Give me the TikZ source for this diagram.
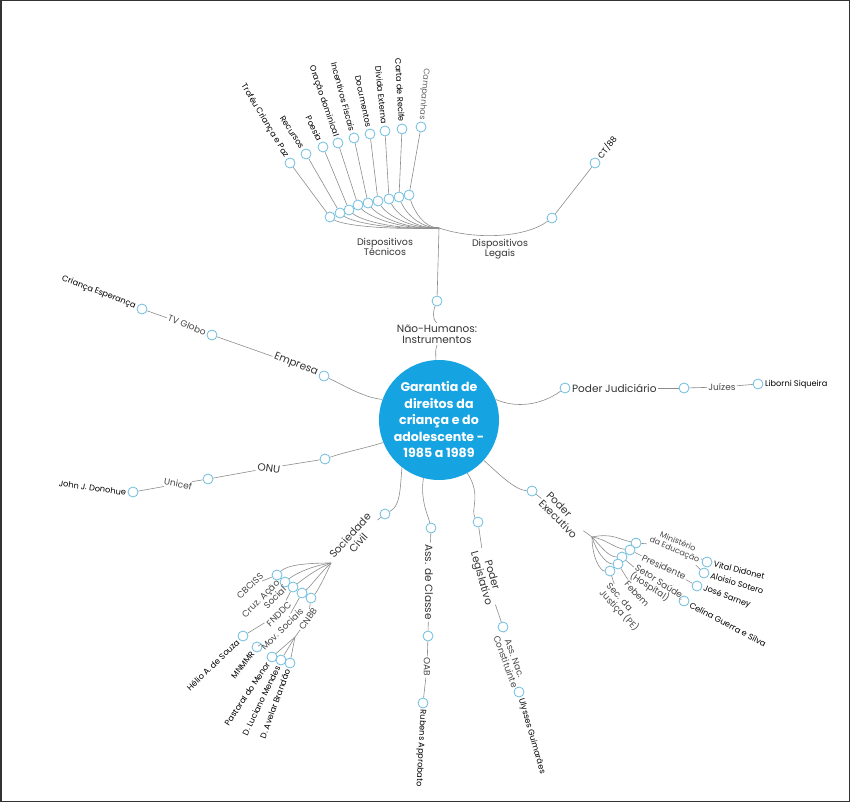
\documentclass[tikz,border=0pt]{standalone}
\usepackage{fontspec}
\setmainfont{Poppins}
\definecolor{coreblue}{RGB}{22,163,226}
\definecolor{dotblue}{RGB}{110,190,222}
\definecolor{linegray}{RGB}{140,140,140}

\begin{document}
\begin{tikzpicture}[x=1pt, y=-1pt,
    core/.style={circle, fill=coreblue, minimum size=120pt, inner sep=0pt, text=white, align=center, font=\bfseries\fontsize{12.6}{16.5}\selectfont},
    dot/.style={circle, draw=dotblue, fill=white, line width=0.8pt, minimum size=10pt, inner sep=0pt},
    lbl/.style={font=\fontsize{10.5}{11}\selectfont, text=black!80, align=center, inner sep=1.5pt},
    sub/.style={font=\fontsize{9}{9.5}\selectfont, text=black!72, align=center, inner sep=1.2pt},
    leaf/.style={font=\fontsize{8.2}{9}\selectfont, text=black, inner sep=1.5pt},
    link/.style={draw=linegray, line width=0.6pt}]
  \useasboundingbox (0,0) rectangle (850,802);
  \draw[black!80, line width=1.5pt] (0.75,0.75) rectangle (849.25,801.25);

  % centre
  \node[core] (core) at (439,420) {Garantia de\\direitos da\\criança e do\\adolescente -\\1985 a 1989};

  % nao-humanos
  \node[lbl] (nh) at (437,334) {Não-Humanos:\\Instrumentos};
  \node[dot] (nhdot) at (437,301) {};
  \coordinate (hub) at (439,228);
  \draw[link] (core.93) .. controls +(0,-8) and +(-2,6) .. (nh.south);
  \draw[link] (nh.north) .. controls +(-6,-5) and +(-3,8) .. (nhdot);
  \draw[link] (nhdot) -- (hub);

  % dispositivos tecnicos
  \node[sub, text=black!80, font=\fontsize{9.5}{10}\selectfont] (tec) at (385,247) {Dispositivos\\Técnicos};
  \node[dot] (l1) at (330,217) {};
  \node[dot] (l2) at (340,213) {};
  \node[dot] (l3) at (349,210) {};
  \node[dot] (l4) at (358,205) {};
  \node[dot] (l5) at (368,203) {};
  \node[dot] (l6) at (378,201) {};
  \node[dot] (l7) at (389,199) {};
  \node[dot] (l8) at (399,197) {};
  \node[dot] (l9) at (409,195) {};
  \draw[link] (hub) .. controls +(-55,2) and +(12,8) .. (l1);
  \draw[link] (hub) .. controls +(-50,2) and +(12,9) .. (l2);
  \draw[link] (hub) .. controls +(-45,2) and +(11,10) .. (l3);
  \draw[link] (hub) .. controls +(-40,2) and +(10,11) .. (l4);
  \draw[link] (hub) .. controls +(-35,2) and +(9,12) .. (l5);
  \draw[link] (hub) .. controls +(-30,1) and +(8,13) .. (l6);
  \draw[link] (hub) .. controls +(-25,1) and +(7,14) .. (l7);
  \draw[link] (hub) .. controls +(-20,0) and +(6,15) .. (l8);
  \draw[link] (hub) .. controls +(-15,0) and +(5,16) .. (l9);
  \node[dot] (u1) at (290,163) {};
  \node[dot] (u2) at (306,154) {};
  \node[dot] (u3) at (323,147) {};
  \node[dot] (u4) at (338,143) {};
  \node[dot] (u5) at (354,138) {};
  \node[dot] (u6) at (370,134) {};
  \node[dot] (u7) at (385,131) {};
  \node[dot] (u8) at (402,129) {};
  \node[dot] (u9) at (421,127) {};
  \draw[link] (l1) -- (u1);
  \draw[link] (l2) -- (u2);
  \draw[link] (l3) -- (u3);
  \draw[link] (l4) -- (u4);
  \draw[link] (l5) -- (u5);
  \draw[link] (l6) -- (u6);
  \draw[link] (l7) -- (u7);
  \draw[link] (l8) -- (u8);
  \draw[link] (l9) -- (u9);
  \node[leaf, rotate=-59, anchor=east] (u1tx) at (u1.121) {Troféu Criança e Paz};
  \node[leaf, rotate=-57, anchor=east] (u2tx) at (u2.123) {Recursos};
  \node[leaf, rotate=-64, anchor=east] (u3tx) at (u3.116) {Poesia};
  \node[leaf, rotate=-71, anchor=east] (u4tx) at (u4.109) {Oração dominical};
  \node[leaf, rotate=-75, anchor=east] (u5tx) at (u5.105) {Incentivos Fiscais};
  \node[leaf, rotate=-78, anchor=east] (u6tx) at (u6.102) {Documentos};
  \node[leaf, rotate=-84, anchor=east] (u7tx) at (u7.96) {Dívida Externa};
  \node[leaf, rotate=-87, anchor=east] (u8tx) at (u8.93) {Carta de Recife};
  \node[leaf, rotate=-95, anchor=east, text=black!60] (u9tx) at (u9.85) {Campanhas};

  % dispositivos legais
  \node[sub, text=black!80, font=\fontsize{9.5}{10}\selectfont] (legal) at (500,249) {Dispositivos\\Legais};
  \node[dot] (lg) at (552,218) {};
  \node[dot] (ct) at (595,163) {};
  \draw[link] (hub) .. controls (475,240) and (525,238) .. (lg);
  \draw[link] (lg) -- (ct);
  \node[leaf, rotate=52, anchor=west] (cttx) at (ct.52) {CT/88};

  % empresa
  \node[dot] (emp) at (324,376) {};
  \draw[link] (core.160) .. controls (365,398) and (345,386) .. (emp);
  \node[lbl, rotate=-22, anchor=east] (emptx) at (emp.158) {Empresa};
  \node[dot] (tvg) at (212,335) {};
  \draw[link] (emptx) -- (tvg);
  \node[sub, rotate=-22, anchor=east] (tvgtx) at (tvg.158) {TV Globo};
  \node[dot] (ce) at (142,309) {};
  \draw[link] (tvgtx) -- (ce);
  \node[leaf, rotate=-21, anchor=east] (cetx) at (ce.159) {Criança Esperança};

  % poder judiciario
  \node[dot] (jud) at (565,388) {};
  \draw[link] (core.20) .. controls (515,408) and (540,406) .. (jud);
  \node[lbl, anchor=west] (judtx) at (jud.east) {Poder Judiciário};
  \node[dot] (juz) at (684,388) {};
  \draw[link] (judtx) -- (juz);
  \node[sub] (juztx) at (722,387) {Juízes};
  \draw[link] (juz) -- (juztx);
  \node[dot] (lib) at (758,384) {};
  \draw[link] (juztx) -- (lib);
  \node[leaf, anchor=west] (libtx) at (lib.east) {Liborni Siqueira};

  % onu
  \node[dot] (onu) at (325,459) {};
  \draw[link] (core.202) .. controls (362,449) and (345,452) .. (onu);
  \node[lbl, rotate=-8] (onutx) at (269,468) {ONU};
  \draw[link] (onu) -- (onutx);
  \node[dot] (uni) at (208,479) {};
  \draw[link] (onutx) -- (uni);
  \node[sub, rotate=-10] (unitx) at (178,484) {Unicef};
  \draw[link] (uni) -- (unitx);
  \node[dot] (jjd) at (133,492) {};
  \draw[link] (unitx) -- (jjd);
  \node[leaf, rotate=-8, anchor=east] (jjdtx) at (jjd.188) {John J. Donohue};

  % sociedade civil
  \node[dot] (soc) at (385,514) {};
  \draw[link] (core.232) .. controls (400,492) and (400,506) .. (soc);
  \node[lbl, rotate=48] (soctx) at (354,539) {Sociedade\\Civil};
  \draw[link] (soc) -- (soctx);
  \coordinate (sochub) at (331,563);
  \node[dot] (s1) at (277,575) {};
  \node[dot] (s2) at (285,582) {};
  \node[dot] (s3) at (293,587) {};
  \node[dot] (s4) at (302,593) {};
  \node[dot] (s5) at (311,598) {};
  \draw[link] (sochub) .. controls +(-25,0) and +(10,-10) .. (s1);
  \draw[link] (sochub) .. controls +(-20,3) and +(10,-8) .. (s2);
  \draw[link] (sochub) .. controls +(-15,6) and +(9,-7) .. (s3);
  \draw[link] (sochub) .. controls +(-10,9) and +(8,-6) .. (s4);
  \draw[link] (sochub) .. controls +(-5,12) and +(6,-6) .. (s5);
  \node[sub, rotate=43] (s1tx) at (250,586) {CBCISS};
  \draw[link] (s1) -- (s1tx);
  \node[sub, rotate=45, align=right] (s2tx) at (264,602) {Cruz. Ação\\Social};
  \draw[link] (s2) -- (s2tx);
  \node[sub, rotate=45] (s3tx) at (279,614) {FNDDC};
  \draw[link] (s3) -- (s3tx);
  \node[dot] (hel) at (243,636) {};
  \draw[link] (s3tx) -- (hel);
  \node[leaf, rotate=44, anchor=east] (heltx) at (hel.224) {Hélio A. de Souza};
  \node[sub, rotate=45] (s4tx) at (282,629) {Mov. Sociais};
  \draw[link] (s4) -- (s4tx);
  \node[dot] (mnm) at (257,647) {};
  \draw[link] (s4tx) -- (mnm);
  \node[leaf, rotate=52, anchor=east] (mnmtx) at (mnm.232) {MNMMR};
  \node[sub, rotate=55] (s5tx) at (308,619) {CNBB};
  \draw[link] (s5) -- (s5tx);
  \coordinate (cnbhub) at (295,637);
  \draw[link] (s5tx) -- (cnbhub);
  \node[dot] (c1) at (272,657) {};
  \node[dot] (c2) at (281,660) {};
  \node[dot] (c3) at (290,663) {};
  \draw[link] (cnbhub) -- (c1);
  \draw[link] (cnbhub) -- (c2);
  \draw[link] (cnbhub) -- (c3);
  \node[leaf, rotate=56, anchor=east] (c1tx) at (c1.236) {Pastoral do Menor};
  \node[leaf, rotate=64, anchor=east] (c2tx) at (c2.244) {D. Luciano Mendes};
  \node[leaf, rotate=70, anchor=east] (c3tx) at (c3.250) {D. Avelar Brandão};

  % associacao de classe
  \node[dot] (acl) at (431,528) {};
  \draw[link] (core.255) .. controls (420,500) and (428,515) .. (acl);
  \node[lbl, rotate=-90] (acltx) at (429,582) {Ass. de Classe};
  \draw[link] (acl) -- (acltx);
  \node[dot] (oab) at (428,636) {};
  \draw[link] (acltx) -- (oab);
  \node[sub, rotate=-90] (oabtx) at (427,667) {OAB};
  \draw[link] (oab) -- (oabtx);
  \node[dot] (rub) at (423,703) {};
  \draw[link] (oabtx) -- (rub);
  \node[leaf, rotate=-93, anchor=west] (rubtx) at (rub.-93) {Rubens Approbato};

  % poder legislativo
  \node[dot] (lgs) at (478,522) {};
  \draw[link] (core.-62) .. controls (482,495) and (470,510) .. (lgs);
  \node[lbl, rotate=-74] (lgstx) at (486,577) {Poder\\Legislativo};
  \draw[link] (lgs) -- (lgstx);
  \node[dot] (anc) at (503,627) {};
  \draw[link] (lgstx) -- (anc);
  \node[sub, rotate=-70] (anctx) at (510,660) {Ass. Nac.\\Constituinte};
  \draw[link] (anc) -- (anctx);
  \node[dot] (uly) at (519,692) {};
  \draw[link] (anctx) -- (uly);
  \node[leaf, rotate=-74, anchor=west] (ulytx) at (uly.-74) {Ulysses Guimarães};

  % poder executivo
  \node[dot] (exe) at (532,491) {};
  \draw[link] (core.-42) .. controls (500,475) and (515,490) .. (exe);
  \node[lbl, rotate=-45, align=left] (exetx) at (562,515) {Poder\\Executivo};
  \draw[link] (exe) -- (exetx);
  \coordinate (exehub) at (592,537);
  \draw[link] (exetx) -- (exehub);
  \node[dot] (e1) at (636,543) {};
  \node[dot] (e2) at (630,550) {};
  \node[dot] (e3) at (622,557) {};
  \node[dot] (e4) at (618,564) {};
  \node[dot] (e5) at (610,571) {};
  \draw[link] (exehub) .. controls +(20,-4) and +(-18,-4) .. (e1);
  \draw[link] (exehub) .. controls +(14,2) and +(-16,-2) .. (e2);
  \draw[link] (exehub) .. controls +(8,8) and +(-14,0) .. (e3);
  \draw[link] (exehub) .. controls +(4,14) and +(-12,0) .. (e4);
  \draw[link] (exehub) .. controls +(0,20) and +(-10,0) .. (e5);
  \node[sub, rotate=-23, font=\fontsize{8}{8.5}\selectfont] (e1tx) at (676,546) {Ministério\\da Educação};
  \draw[link] (e1) -- (e1tx);
  \node[dot] (vit) at (707,562) {};
  \node[dot] (alo) at (704,573) {};
  \draw[link] (e1tx) -- (vit);
  \draw[link] (e1tx) -- (alo);
  \node[leaf, rotate=-14, anchor=west] (vittx) at (vit.-14) {Vital Didonet};
  \node[leaf, rotate=-17, anchor=west] (alotx) at (alo.-17) {Aloisio Sotero};
  \node[sub, rotate=-25] (e2tx) at (664,567) {Presidente};
  \draw[link] (e2) -- (e2tx);
  \node[dot] (sar) at (697,586) {};
  \draw[link] (e2tx) -- (sar);
  \node[leaf, rotate=-20, anchor=west] (sartx) at (sar.-20) {José Sarney};
  \node[sub, rotate=-33, align=left] (e3tx) at (656,586) {Setor Saúde\\(Hospital)};
  \draw[link] (e3) -- (e3tx);
  \node[dot] (cel) at (684,601) {};
  \draw[link] (e3tx) -- (cel);
  \node[leaf, rotate=-28, anchor=west] (celtx) at (cel.-28) {Celina Guerra e Silva};
  \node[sub, rotate=-47] (e4tx) at (637,594) {Febem};
  \draw[link] (e4) -- (e4tx);
  \node[sub, rotate=-47, align=left] (e5tx) at (622,608) {Sec. da\\Justiça (PE)};
  \draw[link] (e5) -- (e5tx);
\end{tikzpicture}
\end{document}
